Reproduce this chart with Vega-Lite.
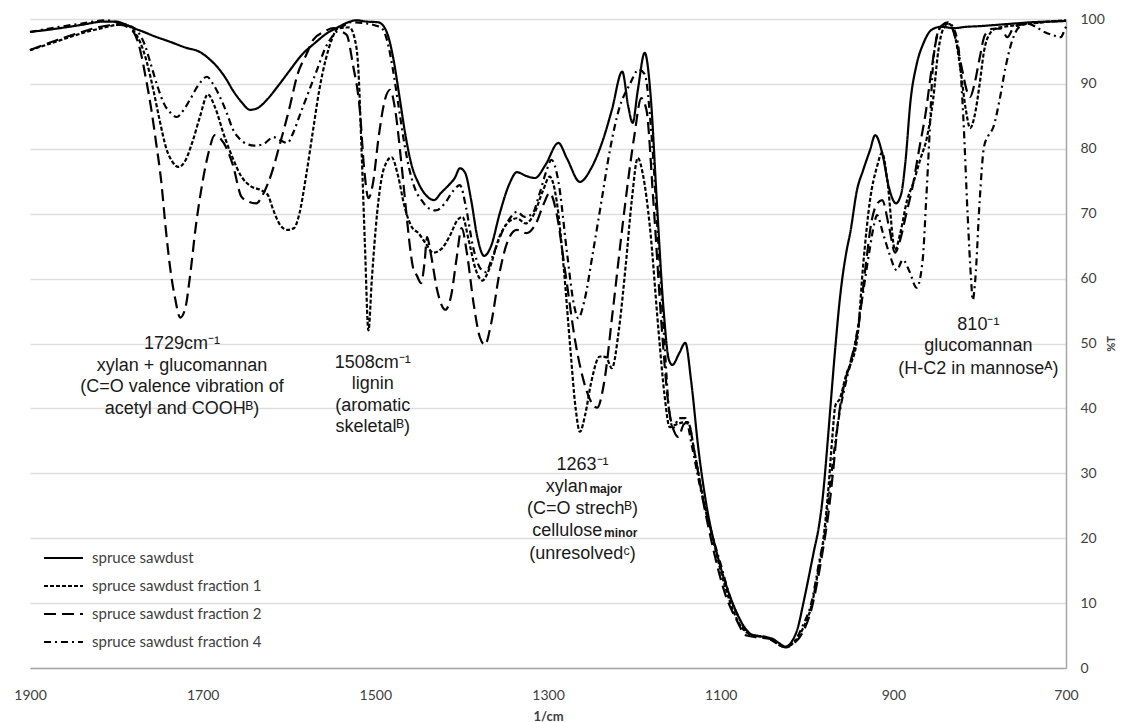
{
"$schema": "https://vega.github.io/schema/vega-lite/v6.json",
"width": 1036, "height": 649,
"autosize": {"type": "none"},
"padding": {"left": 30, "top": 19, "right": 55, "bottom": 54},
"background": "white",
"config": {"view": {"stroke": null}},
"datasets": {
"A": [{"x":1900,"y":98.0},{"x":1870,"y":98.5},{"x":1840,"y":99.1},{"x":1815,"y":99.6},{"x":1800,"y":99.6},{"x":1790,"y":99.2},{"x":1780,"y":98.6},{"x":1770,"y":98.1},{"x":1755,"y":97.3},{"x":1738,"y":96.5},{"x":1720,"y":95.6},{"x":1703,"y":94.9},{"x":1692,"y":93.8},{"x":1683,"y":92.6},{"x":1673,"y":90.8},{"x":1665,"y":89.0},{"x":1655,"y":87.2},{"x":1645,"y":86.0},{"x":1636,"y":86.3},{"x":1626,"y":87.5},{"x":1612,"y":89.8},{"x":1599,"y":92.1},{"x":1585,"y":94.5},{"x":1570,"y":96.3},{"x":1555,"y":97.9},{"x":1545,"y":98.6},{"x":1535,"y":99.3},{"x":1522,"y":99.8},{"x":1510,"y":99.6},{"x":1497,"y":99.5},{"x":1491,"y":99.0},{"x":1485,"y":97.3},{"x":1479,"y":93.8},{"x":1472,"y":88},{"x":1465,"y":82},{"x":1458,"y":77.5},{"x":1450,"y":74.7},{"x":1441,"y":72.8},{"x":1432,"y":72.1},{"x":1424,"y":73.2},{"x":1415,"y":74.4},{"x":1408,"y":75.5},{"x":1402,"y":77.0},{"x":1396,"y":76.3},{"x":1389,"y":72.1},{"x":1382,"y":66.5},{"x":1374,"y":63.5},{"x":1366,"y":65},{"x":1356,"y":70},{"x":1345,"y":74.5},{"x":1336,"y":76.4},{"x":1325,"y":75.8},{"x":1315,"y":75.5},{"x":1303,"y":77.5},{"x":1288,"y":80.9},{"x":1278,"y":78.5},{"x":1263,"y":74.9},{"x":1250,"y":77},{"x":1236,"y":81.5},{"x":1226,"y":86},{"x":1214,"y":91.9},{"x":1207,"y":86.5},{"x":1202,"y":84},{"x":1196,"y":89},{"x":1188,"y":94.8},{"x":1181,"y":88},{"x":1174,"y":72},{"x":1166,"y":55},{"x":1160,"y":47.5},{"x":1156,"y":46.7},{"x":1148,"y":48.5},{"x":1141,"y":50.1},{"x":1134,"y":44},{"x":1126,"y":34},{"x":1115,"y":24},{"x":1105,"y":18},{"x":1093,"y":12.5},{"x":1083,"y":9},{"x":1072,"y":6.2},{"x":1062,"y":5.0},{"x":1050,"y":4.8},{"x":1040,"y":4.5},{"x":1032,"y":3.8},{"x":1025,"y":3.3},{"x":1018,"y":4},{"x":1010,"y":6.5},{"x":1005,"y":9.5},{"x":998,"y":14},{"x":992,"y":18},{"x":986,"y":22},{"x":982,"y":26},{"x":976,"y":35},{"x":973,"y":40},{"x":967,"y":49.7},{"x":962,"y":56.8},{"x":954,"y":64.4},{"x":950,"y":67},{"x":942,"y":73.7},{"x":935,"y":76.7},{"x":927,"y":79.8},{"x":921,"y":82.1},{"x":913,"y":79.4},{"x":905,"y":74},{"x":897,"y":71.6},{"x":891,"y":73},{"x":886,"y":78},{"x":880,"y":87.5},{"x":873,"y":93},{"x":865,"y":96.3},{"x":856,"y":98.3},{"x":845,"y":98.8},{"x":830,"y":98.6},{"x":815,"y":98.8},{"x":800,"y":98.9},{"x":780,"y":99.1},{"x":760,"y":99.3},{"x":740,"y":99.5},{"x":720,"y":99.6},{"x":700,"y":99.7}],
"B": [{"x":1900,"y":98.0},{"x":1870,"y":98.7},{"x":1840,"y":99.3},{"x":1812,"y":99.8},{"x":1795,"y":99.3},{"x":1782,"y":98.8},{"x":1775,"y":98},{"x":1767,"y":96},{"x":1760,"y":93},{"x":1752,"y":89.5},{"x":1745,"y":87},{"x":1737,"y":85.5},{"x":1730,"y":84.9},{"x":1722,"y":86},{"x":1715,"y":87.5},{"x":1705,"y":89.8},{"x":1695,"y":91.1},{"x":1688,"y":90},{"x":1680,"y":88},{"x":1672,"y":85.5},{"x":1665,"y":83},{"x":1657,"y":81.5},{"x":1650,"y":80.8},{"x":1640,"y":80.5},{"x":1630,"y":80.7},{"x":1618,"y":81.8},{"x":1610,"y":81.3},{"x":1602,"y":80.9},{"x":1595,"y":82.5},{"x":1588,"y":85},{"x":1578,"y":88.5},{"x":1568,"y":92},{"x":1558,"y":95.5},{"x":1550,"y":97.3},{"x":1540,"y":98.6},{"x":1528,"y":99.5},{"x":1515,"y":99.4},{"x":1500,"y":99.0},{"x":1492,"y":98.5},{"x":1486,"y":96.5},{"x":1480,"y":92.5},{"x":1473,"y":86.5},{"x":1466,"y":80.5},{"x":1460,"y":76.5},{"x":1453,"y":73.5},{"x":1446,"y":72},{"x":1440,"y":71},{"x":1430,"y":70.5},{"x":1420,"y":71.5},{"x":1410,"y":73.5},{"x":1402,"y":74.4},{"x":1395,"y":71},{"x":1387,"y":65},{"x":1378,"y":61.5},{"x":1372,"y":61},{"x":1364,"y":63.5},{"x":1352,"y":67.5},{"x":1343,"y":69.5},{"x":1336,"y":70.3},{"x":1327,"y":69.5},{"x":1318,"y":70},{"x":1310,"y":73},{"x":1302,"y":76.5},{"x":1296,"y":78.3},{"x":1288,"y":75},{"x":1278,"y":64},{"x":1270,"y":56},{"x":1265,"y":53.9},{"x":1258,"y":56.5},{"x":1248,"y":64},{"x":1238,"y":72},{"x":1228,"y":80},{"x":1218,"y":86},{"x":1205,"y":90},{"x":1195,"y":92.2},{"x":1188,"y":91.5},{"x":1180,"y":82},{"x":1172,"y":65},{"x":1165,"y":50},{"x":1160,"y":40},{"x":1155,"y":37},{"x":1148,"y":38.5},{"x":1141,"y":38.5},{"x":1133,"y":34},{"x":1124,"y":28},{"x":1113,"y":22},{"x":1100,"y":16},{"x":1088,"y":10.5},{"x":1078,"y":7.5},{"x":1068,"y":5.3},{"x":1055,"y":4.9},{"x":1045,"y":4.6},{"x":1035,"y":3.8},{"x":1025,"y":3.2},{"x":1015,"y":4},{"x":1005,"y":6.5},{"x":995,"y":10},{"x":985,"y":17},{"x":979,"y":21},{"x":975,"y":26},{"x":968,"y":34},{"x":962,"y":39.5},{"x":955,"y":44},{"x":945,"y":49.5},{"x":936,"y":57},{"x":928,"y":64},{"x":922,"y":68.5},{"x":919,"y":69.8},{"x":912,"y":67},{"x":905,"y":64},{"x":896,"y":61.3},{"x":889,"y":62.9},{"x":881,"y":61},{"x":873,"y":58.6},{"x":866,"y":62.9},{"x":862,"y":72},{"x":858,"y":82.4},{"x":855,"y":91},{"x":851,"y":96.5},{"x":845,"y":98.8},{"x":837,"y":99.5},{"x":830,"y":98.5},{"x":824,"y":95},{"x":819,"y":85},{"x":814,"y":70},{"x":810,"y":60},{"x":808,"y":56.7},{"x":805,"y":60},{"x":800,"y":72},{"x":795,"y":80.3},{"x":790,"y":82},{"x":784,"y":83.4},{"x":777,"y":87.5},{"x":770,"y":92.6},{"x":762,"y":96.8},{"x":754,"y":98.8},{"x":745,"y":99.3},{"x":735,"y":98.8},{"x":725,"y":98},{"x":715,"y":97.5},{"x":706,"y":97.2},{"x":702,"y":98.2},{"x":700,"y":98.8}],
"C": [{"x":1900,"y":95.2},{"x":1870,"y":96.5},{"x":1840,"y":97.8},{"x":1810,"y":98.8},{"x":1795,"y":99.2},{"x":1785,"y":98.9},{"x":1778,"y":97.8},{"x":1772,"y":96.3},{"x":1765,"y":93.5},{"x":1757,"y":89},{"x":1750,"y":84.5},{"x":1742,"y":80},{"x":1735,"y":78},{"x":1728,"y":77.2},{"x":1720,"y":78.2},{"x":1712,"y":81},{"x":1703,"y":85},{"x":1694,"y":88.4},{"x":1686,"y":86.5},{"x":1675,"y":82},{"x":1665,"y":78.5},{"x":1655,"y":75.7},{"x":1645,"y":74.3},{"x":1632,"y":73.6},{"x":1625,"y":73},{"x":1618,"y":70.5},{"x":1610,"y":68.2},{"x":1602,"y":67.5},{"x":1594,"y":67.8},{"x":1588,"y":70},{"x":1580,"y":76},{"x":1572,"y":83},{"x":1565,"y":89},{"x":1557,"y":94},{"x":1550,"y":97},{"x":1543,"y":98.6},{"x":1530,"y":98.7},{"x":1524,"y":97},{"x":1520,"y":93},{"x":1516,"y":80},{"x":1512,"y":65},{"x":1508,"y":52},{"x":1504,"y":60},{"x":1498,"y":70},{"x":1490,"y":77},{"x":1481,"y":78.7},{"x":1474,"y":76},{"x":1466,"y":71},{"x":1458,"y":68},{"x":1450,"y":67},{"x":1442,"y":65.5},{"x":1433,"y":64},{"x":1424,"y":64.5},{"x":1414,"y":66.5},{"x":1405,"y":69},{"x":1399,"y":69.5},{"x":1392,"y":66},{"x":1384,"y":61.5},{"x":1376,"y":59.7},{"x":1368,"y":61.5},{"x":1356,"y":66.5},{"x":1345,"y":68.8},{"x":1336,"y":69.3},{"x":1326,"y":68.5},{"x":1316,"y":70},{"x":1306,"y":73.5},{"x":1298,"y":75.7},{"x":1290,"y":72},{"x":1282,"y":62},{"x":1274,"y":49},{"x":1268,"y":40},{"x":1263,"y":36.4},{"x":1257,"y":39},{"x":1250,"y":44},{"x":1240,"y":48},{"x":1233,"y":47.9},{"x":1226,"y":46.2},{"x":1218,"y":52},{"x":1210,"y":62},{"x":1203,"y":72},{"x":1196,"y":78.6},{"x":1190,"y":76},{"x":1182,"y":68},{"x":1172,"y":52},{"x":1165,"y":42},{"x":1159,"y":37.1},{"x":1152,"y":37.5},{"x":1145,"y":37.8},{"x":1138,"y":37.9},{"x":1130,"y":33},{"x":1120,"y":26},{"x":1110,"y":20.5},{"x":1100,"y":15},{"x":1090,"y":10.5},{"x":1080,"y":7.2},{"x":1070,"y":5.5},{"x":1060,"y":5},{"x":1048,"y":4.8},{"x":1037,"y":4},{"x":1025,"y":3.2},{"x":1015,"y":4},{"x":1005,"y":6},{"x":995,"y":9.5},{"x":987,"y":15},{"x":980,"y":21},{"x":975,"y":28},{"x":971,"y":35},{"x":967,"y":40.5},{"x":962,"y":41.5},{"x":955,"y":45},{"x":942,"y":50.5},{"x":935,"y":62},{"x":927,"y":72.1},{"x":919,"y":77.2},{"x":913,"y":79.4},{"x":907,"y":75.2},{"x":898,"y":64.4},{"x":892,"y":67},{"x":884,"y":72.1},{"x":877,"y":74.7},{"x":869,"y":78.3},{"x":861,"y":81.8},{"x":854,"y":87.5},{"x":848,"y":95},{"x":842,"y":98.5},{"x":835,"y":99.2},{"x":828,"y":97},{"x":822,"y":92},{"x":816,"y":86},{"x":811,"y":83.2},{"x":806,"y":85},{"x":800,"y":90},{"x":795,"y":95},{"x":788,"y":97.8},{"x":780,"y":98.6},{"x":760,"y":99},{"x":740,"y":99.3},{"x":720,"y":99.6},{"x":700,"y":99.8}],
"D": [{"x":1900,"y":95.2},{"x":1870,"y":96.7},{"x":1840,"y":98},{"x":1810,"y":99},{"x":1795,"y":99.1},{"x":1785,"y":98.6},{"x":1778,"y":97.5},{"x":1772,"y":95},{"x":1766,"y":91},{"x":1760,"y":86.5},{"x":1754,"y":81},{"x":1748,"y":75},{"x":1743,"y":68},{"x":1738,"y":62},{"x":1732,"y":57},{"x":1726,"y":54},{"x":1720,"y":55.5},{"x":1715,"y":60},{"x":1708,"y":68},{"x":1700,"y":75},{"x":1693,"y":79.5},{"x":1686,"y":82.1},{"x":1679,"y":81.5},{"x":1672,"y":80},{"x":1665,"y":77.5},{"x":1655,"y":72.6},{"x":1646,"y":71.8},{"x":1638,"y":71.6},{"x":1630,"y":73},{"x":1620,"y":76.3},{"x":1610,"y":81},{"x":1600,"y":86},{"x":1590,"y":91.5},{"x":1580,"y":94.5},{"x":1572,"y":96.8},{"x":1560,"y":98},{"x":1548,"y":98.6},{"x":1538,"y":98},{"x":1533,"y":97.5},{"x":1526,"y":93},{"x":1518,"y":86},{"x":1513,"y":77},{"x":1508,"y":72.4},{"x":1503,"y":74.5},{"x":1496,"y":82},{"x":1489,"y":87.5},{"x":1483,"y":89.1},{"x":1477,"y":86},{"x":1470,"y":78},{"x":1464,"y":70},{"x":1460,"y":65},{"x":1456,"y":61.5},{"x":1452,"y":60.5},{"x":1447,"y":59.3},{"x":1443,"y":62.5},{"x":1440,"y":66.4},{"x":1436,"y":64},{"x":1428,"y":58},{"x":1419,"y":55.2},{"x":1412,"y":57.5},{"x":1406,"y":63},{"x":1400,"y":67.8},{"x":1394,"y":64},{"x":1386,"y":56},{"x":1379,"y":51},{"x":1373,"y":49.8},{"x":1366,"y":53},{"x":1356,"y":61},{"x":1346,"y":66},{"x":1336,"y":67.5},{"x":1325,"y":67},{"x":1314,"y":68.5},{"x":1305,"y":71.5},{"x":1298,"y":73.2},{"x":1290,"y":70},{"x":1280,"y":61},{"x":1268,"y":50},{"x":1256,"y":43},{"x":1243,"y":40.1},{"x":1235,"y":44},{"x":1225,"y":55},{"x":1212,"y":70},{"x":1200,"y":82},{"x":1192,"y":87.8},{"x":1186,"y":86},{"x":1178,"y":72},{"x":1168,"y":52},{"x":1160,"y":40},{"x":1154,"y":36.5},{"x":1149,"y":35.6},{"x":1143,"y":37.5},{"x":1138,"y":37.9},{"x":1130,"y":33},{"x":1120,"y":25.5},{"x":1108,"y":18},{"x":1095,"y":11.5},{"x":1082,"y":7.5},{"x":1070,"y":5},{"x":1055,"y":4.7},{"x":1043,"y":4.5},{"x":1033,"y":3.6},{"x":1025,"y":3.2},{"x":1015,"y":3.8},{"x":1005,"y":5.5},{"x":995,"y":9},{"x":987,"y":14},{"x":980,"y":19.5},{"x":975,"y":24},{"x":970,"y":30},{"x":964,"y":38},{"x":958,"y":43},{"x":950,"y":47},{"x":940,"y":53},{"x":932,"y":62},{"x":925,"y":69},{"x":919,"y":71.5},{"x":913,"y":72.1},{"x":905,"y":68},{"x":898,"y":64},{"x":892,"y":66},{"x":885,"y":70},{"x":878,"y":74},{"x":870,"y":80},{"x":862,"y":86},{"x":856,"y":92},{"x":850,"y":97},{"x":844,"y":99},{"x":835,"y":99.3},{"x":828,"y":97},{"x":820,"y":92},{"x":815,"y":89},{"x":811,"y":88},{"x":806,"y":90},{"x":800,"y":94},{"x":794,"y":97.5},{"x":785,"y":98.5},{"x":775,"y":98.5},{"x":768,"y":97.2},{"x":760,"y":98.8},{"x":740,"y":99.4},{"x":720,"y":99.6},{"x":700,"y":99.7}],
"notes": [
{"x":1724,"y":50.0,"t":"1729cm⁻¹"},{"x":1724,"y":46.6,"t":"xylan + glucomannan"},{"x":1724,"y":43.3,"t":"(C=O valence vibration of"},{"x":1724,"y":39.9,"t":"acetyl and COOHᴮ)"},
{"x":1503,"y":47.0,"t":"1508cm⁻¹"},{"x":1503,"y":43.7,"t":"lignin"},{"x":1503,"y":40.4,"t":"(aromatic"},{"x":1503,"y":37.1,"t":"skeletalᴮ)"},
{"x":1260,"y":31.3,"t":"1263⁻¹"},{"x":1260,"y":24.5,"t":"(C=O strechᴮ)"},{"x":1260,"y":17.6,"t":"(unresolvedᶜ)"},
{"x":801.5,"y":52.9,"t":"810⁻¹"},{"x":801.5,"y":49.6,"t":"glucomannan"},{"x":801.5,"y":46.1,"t":"(H-C2 in mannoseᴬ)"}],
"notesR": [{"x":1254,"y":27.9,"t":"xylan"},{"x":1237,"y":21.1,"t":"cellulose"}],
"notesS": [{"x":1252,"y":27.6,"t":"major"},{"x":1235,"y":20.8,"t":"minor"}]
},
"encoding": {
 "x": {"field": "x", "type": "quantitative",
  "scale": {"domain": [700, 1900], "reverse": true, "nice": false, "zero": false},
  "axis": {"values": [1900,1700,1500,1300,1100,900,700], "format": "d", "title": "1/cm", "grid": false, "ticks": false, "domainColor": "#a6a6a6", "domainWidth": 1.5, "labelFont": "Lato", "labelFontSize": 14, "labelColor": "#404040", "labelPadding": 20, "labelFlush": false, "titleFont": "Lato", "titleFontSize": 13, "titleFontWeight": "bold", "titleColor": "#404040", "titlePadding": 8}},
 "y": {"field": "y", "type": "quantitative",
  "scale": {"domain": [0, 100], "nice": false, "zero": true},
  "axis": {"orient": "right", "values": [0,10,20,30,40,50,60,70,80,90,100], "grid": true, "gridColor": "#dedede", "gridWidth": 1.5, "ticks": false, "domainColor": "#a6a6a6", "domainWidth": 1.5, "labelFont": "Lato", "labelFontSize": 14, "labelColor": "#404040", "labelPadding": 14, "labelAlign": "left", "title": "%T", "titleAngle": -90, "titleFont": "Lato", "titleFontSize": 11, "titleFontWeight": "bold", "titleColor": "#404040", "titlePadding": 12}}
},
"layer": [
 {"data": {"name": "A"}, "mark": {"type": "line", "color": "black", "strokeWidth": 2.2, "interpolate": "monotone", "strokeJoin": "round"},
  "encoding": {"order": {"field": "x", "sort": "descending"},
   "strokeDash": {"datum": "spruce sawdust", "type": "nominal",
    "scale": {"domain": ["spruce sawdust", "spruce sawdust fraction 1", "spruce sawdust fraction 2", "spruce sawdust fraction 4"], "range": [[1, 0], [4, 2], [12, 6], [7, 4, 2, 4]]},
    "legend": {"orient": "none", "legendX": 13, "legendY": 529, "title": null, "symbolType": "stroke", "symbolSize": 1521, "symbolStrokeWidth": 2, "symbolStrokeColor": "black", "clipHeight": 20, "rowPadding": 8, "labelOffset": 8, "labelLimit": 400, "labelFont": "Lato", "labelFontSize": 15, "labelColor": "#404040"}}}},
 {"data": {"name": "C"}, "mark": {"type": "line", "color": "black", "strokeWidth": 2.2, "interpolate": "monotone", "strokeJoin": "round"},
  "encoding": {"order": {"field": "x", "sort": "descending"}, "strokeDash": {"datum": "spruce sawdust fraction 1", "type": "nominal"}}},
 {"data": {"name": "D"}, "mark": {"type": "line", "color": "black", "strokeWidth": 2.2, "interpolate": "monotone", "strokeJoin": "round"},
  "encoding": {"order": {"field": "x", "sort": "descending"}, "strokeDash": {"datum": "spruce sawdust fraction 2", "type": "nominal"}}},
 {"data": {"name": "B"}, "mark": {"type": "line", "color": "black", "strokeWidth": 2.2, "interpolate": "monotone", "strokeJoin": "round"},
  "encoding": {"order": {"field": "x", "sort": "descending"}, "strokeDash": {"datum": "spruce sawdust fraction 4", "type": "nominal"}}},
 {"data": {"name": "notes"}, "mark": {"type": "text", "font": "Liberation Sans", "fontSize": 18, "align": "center", "baseline": "middle", "color": "#1a1a1a"},
  "encoding": {"text": {"field": "t", "type": "nominal"}}},
 {"data": {"name": "notesR"}, "mark": {"type": "text", "font": "Liberation Sans", "fontSize": 18, "align": "right", "baseline": "middle", "color": "#1a1a1a"},
  "encoding": {"text": {"field": "t", "type": "nominal"}}},
 {"data": {"name": "notesS"}, "mark": {"type": "text", "font": "Liberation Sans", "fontSize": 12, "fontWeight": "bold", "align": "left", "baseline": "middle", "color": "#1a1a1a"},
  "encoding": {"text": {"field": "t", "type": "nominal"}}}
]
}
